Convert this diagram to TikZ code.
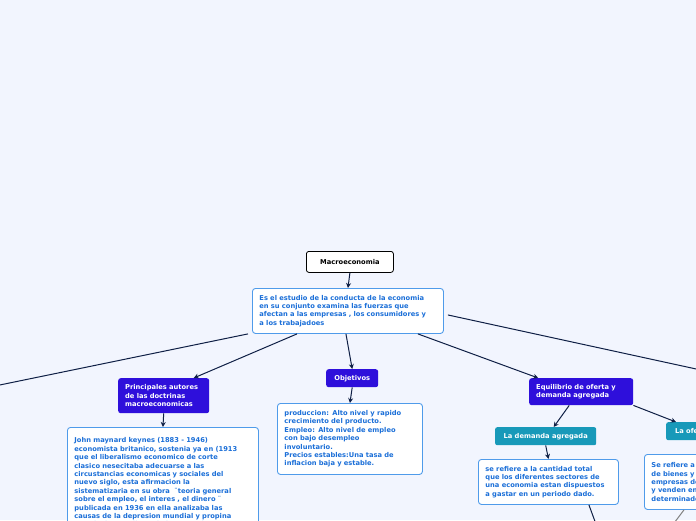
\documentclass[tikz,border=0pt]{standalone}
\usepackage{fontspec}
\setmainfont{DejaVu Sans}
\usetikzlibrary{arrows.meta}
\definecolor{bg}{HTML}{F2F5FE}
\definecolor{tb}{HTML}{1B6FD8}
\definecolor{bb}{HTML}{4F9BEA}
\definecolor{pur}{HTML}{2E0FDB}
\definecolor{teal}{HTML}{1899B9}
\definecolor{nav}{HTML}{0F1F45}
\tikzset{
 txt/.style={font=\bfseries\fontsize{6.7}{8.4}\selectfont},
 wbox/.style={txt,draw=bb,line width=0.9pt,fill=white,rounded corners=3pt,text=tb,align=left,anchor=north west,inner xsep=7pt,inner ysep=5pt},
 pbox/.style={txt,fill=pur,rounded corners=2.5pt,text=white,align=left,anchor=north west,inner xsep=7pt,inner ysep=4pt},
 tbox/.style={txt,fill=teal,rounded corners=2pt,text=white,align=left,anchor=north west,inner xsep=7pt,inner ysep=4pt},
 con/.style={draw=nav,line width=1pt,-{Stealth[length=5pt,width=5pt]}},
 lin/.style={draw=nav,line width=1pt}
}
\begin{document}
\begin{tikzpicture}[x=1pt,y=-1pt]
\useasboundingbox (0,0) rectangle (696,520);
\clip (0,0) rectangle (696,520);
\fill[bg] (0,0) rectangle (696,520);
\node[txt,draw=black,line width=0.8pt,fill=white,rounded corners=2.5pt,minimum width=87pt,minimum height=21pt,anchor=north west] (macro) at (306,251) {Macroeconomia};
\node[wbox,text width=177pt,minimum height=45pt,inner ysep=4pt] (def) at (252,288) {Es el estudio de la conducta de la economia\\en su conjunto examina las fuerzas que\\afectan a las empresas , los consumidores y\\a los trabajadoes};
\node[pbox,text width=77pt,minimum height=35pt] (prin) at (118,378) {Principales autores\\de las doctrinas\\macroeconomicas};
\node[pbox,minimum width=52pt,minimum height=18pt,align=center,inner xsep=2pt] (obj) at (326,369) {Objetivos};
\node[wbox,text width=131pt,minimum height=71pt,inner ysep=4pt] (objt) at (277,403) {produccion: Alto nivel y rapido\\crecimiento del producto.\\Empleo: Alto nivel de empleo\\con bajo desempleo\\involuntario.\\Precios estables:Una tasa de\\inflacion baja y estable.};
\node[wbox,text width=177pt,minimum height=110pt] (key) at (67,427) {John maynard keynes (1883 - 1946)\\economista britanico, sostenia ya en (1913\\que el liberalismo economico de corte\\clasico nesecitaba adecuarse a las\\circustancias economicas y sociales del\\nuevo siglo, esta afirmacion la\\sistematizaria en su obra \ ¨teoria general\\sobre el empleo, el interes , el dinero ¨\\publicada en 1936 en ella analizaba las\\causas de la depresion mundial y propina\\su solucion mediante la intervencion};
\node[pbox,text width=90pt,minimum height=27pt] (equi) at (529,378) {Equilibrio de oferta y\\demanda agregada};
\node[tbox,minimum width=101pt,minimum height=18pt] (dem) at (495,427) {La demanda agregada};
\node[wbox,text width=126pt,minimum height=45pt,inner ysep=4pt] (demt) at (478,459) {se refiere a la cantidad total\\que los diferentes sectores de\\una economia estan dispuestos\\a gastar en un periodo dado.};
\node[tbox,minimum width=90pt,minimum height=18pt] (ofe) at (666,422) {La oferta agregada};
\node[wbox,text width=170pt,minimum height=55pt,inner ysep=4pt] (ofet) at (644,454) {Se refiere a la cantidad\\de bienes y servicios que las\\empresas de una economia producen\\y venden en un periodo\\determinado};
\coordinate (offl) at (-10,387);
\coordinate (offr) at (710,372);
\coordinate (offd) at (600,535);
\coordinate (offg) at (665,535);
\draw[con] (macro.south) -- (def.north);
\draw[lin] ([xshift=-4pt]def.south west) -- (offl);
\draw[con] ([xshift=45pt]def.south west) -- ([xshift=30pt]prin.north);
\draw[con] ([xshift=-2pt]def.south) -- (obj.north);
\draw[con] (obj.south) -- (objt.north);
\draw[con] (prin.south) -- (key.north);
\draw[con] ([xshift=-26pt]def.south east) -- ([xshift=-43pt]equi.north);
\draw[lin] ([xshift=4pt,yshift=-4pt]def.east) -- (offr);
\draw[con] ([xshift=-12pt]equi.south) -- ([xshift=8pt]dem.north);
\draw[con] (equi.south east) -- ([xshift=10pt]ofe.north west);
\draw[con] (dem.south) -- (demt.north);
\draw[lin] ([xshift=-30pt]demt.south east) -- (offd);
\draw[draw=gray,line width=1pt] ([xshift=40pt]ofet.south west) -- (offg);
\end{tikzpicture}
\end{document}
